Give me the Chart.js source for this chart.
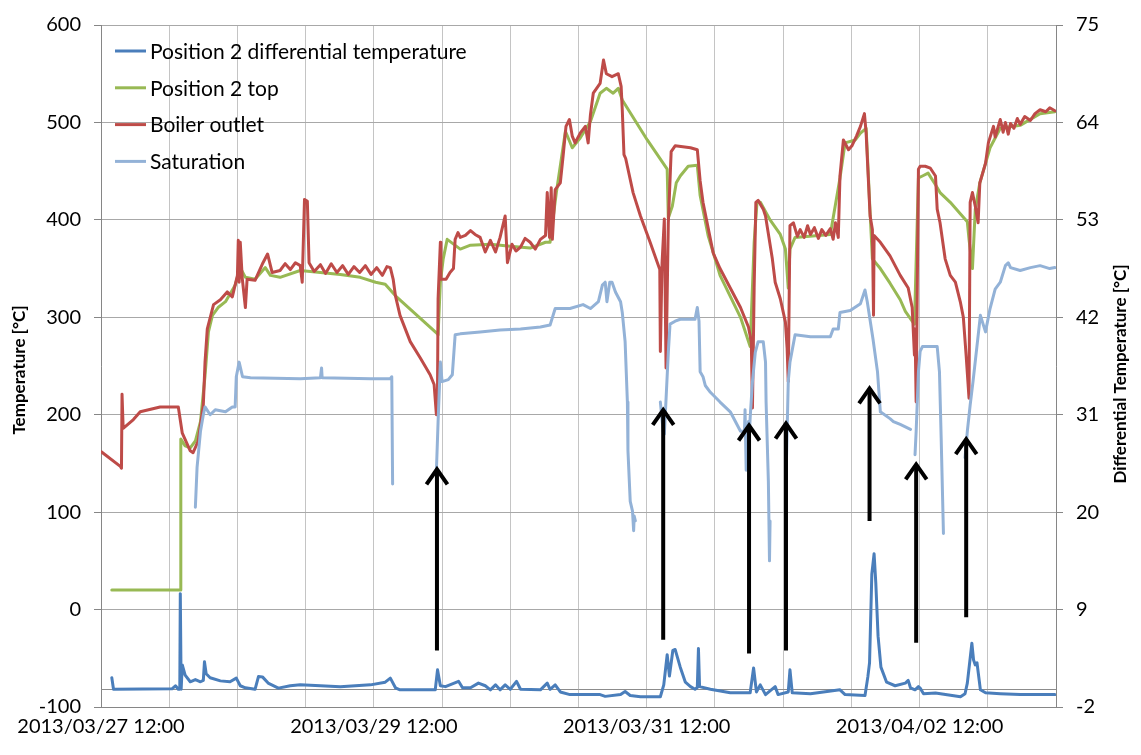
<!DOCTYPE html>
<html>
<head>
<meta charset="utf-8">
<script src="https://cdn.jsdelivr.net/npm/chart.js@4.4.0/dist/chart.umd.min.js"></script>
<style>
  html, body { margin: 0; padding: 0; background: #ffffff; }
  #wrap { width: 1141px; height: 755px; position: relative; }
</style>
</head>
<body>
<div id="wrap"><canvas id="chart" width="1141" height="755"></canvas></div>
<script>
// Time axis: hours since 2013/03/27 12:00, gridline every 12 h, labels every 2 days
const gridHours = [0, 12, 24, 36, 48, 60, 72, 84, 96, 108, 120, 132, 144, 156, 168];
const xLabelHours = [0, 48, 96, 144];
const xLabels = ['2013/03/27 12:00', '2013/03/29 12:00', '2013/03/31 12:00', '2013/04/02 12:00'];
const tempTicks = [-100, 0, 100, 200, 300, 400, 500, 600];
const diffTicks = [-2, 9, 20, 31, 42, 53, 64, 75];

const seriesNames = ['Position 2 differential temperature', 'Position 2 top', 'Boiler outlet', 'Saturation'];

// [hour, °C] — differential temperature (secondary axis)
const diffTemp = [[1.9,1.3],[2.2,0],[12.5,0.05],[13.1,0.4],[13.6,0],[13.86,0],[13.95,10.8],[14.1,0],[14.3,2.75],[14.8,1.6],[15.7,0.85],[16.6,1.1],[17.5,0.85],[18.0,1.0],[18.2,3.1],[18.5,1.75],[19.2,1.3],[21.0,0.95],[22.7,0.85],[23.8,1.26],[24.5,0.4],[25.4,0.17],[27.1,0],[27.7,1.44],[28.4,1.4],[29.4,0.7],[31.2,0.13],[33.3,0.4],[35.05,0.5],[38.6,0.4],[42.1,0.28],[47.4,0.5],[50.0,0.8],[50.9,1.26],[51.8,0.17],[52.6,-0.06],[58.8,-0.06],[59.2,2.2],[59.7,0.4],[60.6,0.3],[62.9,0.9],[63.6,0.17],[65.0,0.17],[66.4,0.7],[67.6,0.4],[68.5,-0.06],[69.4,0.5],[70.2,-0.06],[71.1,0.5],[72.0,0],[73.1,0.9],[73.8,0],[77.3,-0.06],[78.5,0.7],[79.0,0],[79.9,0.5],[80.8,-0.3],[82.5,-0.6],[87.8,-0.6],[88.7,-0.8],[91.4,-0.6],[92.2,-0.25],[93.1,-0.7],[94.9,-0.84],[98.4,-0.84],[99.0,0.5],[99.6,3.9],[100.0,1.5],[100.6,4.4],[101.0,4.5],[101.9,2.5],[102.8,0.8],[103.7,0.3],[104.5,0],[104.9,0.2],[105.1,4.6],[105.3,0.3],[107.2,0],[110.7,-0.4],[114.2,-0.4],[114.8,2.4],[115.3,-0.3],[115.97,0.5],[116.9,-0.6],[118.6,0.3],[119.1,-0.6],[120.9,-0.3],[121.2,2.2],[121.6,-0.4],[124.8,-0.5],[130.0,-0.06],[130.9,-0.6],[134.4,-0.7],[134.9,1.4],[135.2,3.0],[135.6,13.0],[136.0,15.3],[136.3,12.0],[136.7,6.0],[137.2,2.5],[138.2,0.8],[139.7,0.4],[141.5,0.7],[142.0,1.0],[142.4,0.17],[143.2,-0.06],[143.8,0.3],[144.1,0.13],[144.7,-0.5],[146.8,-0.43],[151.2,-0.84],[152.0,-0.5],[152.4,0.7],[152.9,3.5],[153.2,5.2],[153.5,3.3],[153.8,2.75],[154.1,3.0],[154.7,-0.06],[155.6,-0.4],[158.2,-0.5],[161.7,-0.6],[167.8,-0.6]];

// [hour, °C] — position 2 top
const positionTop = [[1.9,20],[13.95,20],[14.04,175],[14.8,168],[15.7,166],[16.6,173],[17.5,193],[18.3,240],[18.9,285],[19.6,302],[20.6,310],[21.9,316],[23.6,333],[24.5,351],[25.4,341],[27.1,339],[28.9,351],[29.8,343],[31.5,341],[35.05,348],[38.6,346],[42.1,344],[45.6,341],[48.3,336],[50.0,334],[51.8,322],[59.0,284],[59.3,282],[59.7,336],[60.2,360],[60.9,380],[63.2,370],[65.0,374],[68.5,375],[72.0,373],[75.5,371],[78.2,377],[79.0,377],[80.1,428],[81.7,491],[82.9,474],[84.3,484],[86.1,501],[87.8,530],[88.9,535],[90.1,530],[91.0,535],[91.7,523],[96.1,482],[99.6,452],[99.8,402],[100.5,414],[101.2,438],[101.9,445],[103.3,455],[104.9,456],[105.4,425],[106.8,384],[108.9,343],[112.5,300],[114.2,270],[114.9,377],[115.4,418],[116.0,418],[117.7,400],[119.5,385],[120.4,370],[120.9,330],[121.2,370],[122.1,382],[128.3,385],[130.0,443],[130.9,479],[132.7,482],[133.6,489],[134.6,494],[135.3,407],[135.7,360],[137.1,350],[138.8,335],[140.6,318],[141.5,306],[142.7,296],[143.1,293],[143.8,443],[144.5,445],[145.5,448],[146.8,436],[147.6,428],[149.4,418],[151.2,406],[152.4,398],[152.7,380],[153.3,350],[153.8,411],[154.6,438],[156.4,474],[158.2,494],[161.7,497],[165.2,509],[167.8,511]];

// [hour, °C] — boiler outlet
const boilerOutlet = [[0.05,162],[3.4,147],[3.6,145],[3.7,221],[3.9,186],[5.7,195],[6.9,203],[10.4,208],[13.6,208],[14.3,181],[15.7,163],[16.2,161],[17.1,173],[18.0,210],[18.3,254],[18.7,288],[19.8,313],[21.0,318],[22.2,326],[23.1,321],[24.0,343],[24.15,379],[24.3,336],[24.5,377],[24.85,340],[25.4,310],[25.7,339],[27.1,338],[28.5,356],[29.3,365],[30.1,346],[31.5,348],[32.4,355],[33.3,349],[34.2,356],[35.05,353],[35.4,336],[35.8,421],[36.3,419],[36.6,356],[37.5,347],[38.6,354],[39.5,345],[40.5,355],[41.5,346],[42.5,353],[43.5,344],[44.5,352],[45.5,346],[46.5,353],[47.5,344],[48.5,351],[49.5,343],[50.3,352],[50.9,351],[51.4,339],[51.8,322],[52.6,302],[54.4,275],[56.2,258],[57.9,241],[58.6,231],[59.0,200],[59.2,227],[59.3,319],[59.7,377],[59.8,339],[60.7,339],[61.4,346],[62.0,350],[62.3,380],[62.8,387],[63.2,382],[64.1,384],[65.0,389],[65.8,385],[66.7,382],[67.6,367],[68.5,379],[69.4,367],[70.2,382],[71.1,404],[71.5,356],[72.3,375],[73.0,368],[73.8,372],[74.6,381],[75.5,377],[76.4,370],[77.3,380],[78.2,384],[78.5,428],[78.9,382],[79.2,433],[79.4,380],[79.9,431],[80.8,438],[81.3,466],[81.8,496],[82.4,503],[82.9,486],[83.4,479],[84.3,489],[85.2,496],[85.7,479],[86.1,508],[86.6,530],[87.8,540],[88.4,564],[88.9,550],[89.9,547],[91.0,550],[91.5,537],[91.7,513],[92.0,467],[92.3,463],[93.6,428],[94.9,404],[96.6,377],[98.3,349],[98.4,265],[98.7,356],[99.1,401],[99.4,248],[99.8,397],[100.3,470],[101.0,476],[103.7,474],[104.9,472],[105.4,440],[105.9,418],[107.7,366],[108.9,350],[112.5,310],[113.9,290],[114.4,275],[114.6,207],[114.9,330],[115.2,418],[115.6,420],[116.5,411],[116.9,404],[118.1,360],[118.6,336],[119.5,319],[120.4,295],[120.7,268],[120.9,234],[121.2,394],[121.8,397],[122.5,383],[123.0,390],[123.7,382],[124.3,394],[124.8,385],[125.5,392],[126.2,381],[126.8,390],[127.5,384],[128.3,391],[128.8,380],[129.2,397],[129.7,382],[130.0,445],[130.6,482],[131.5,472],[132.1,476],[132.9,486],[133.6,496],[134.3,509],[134.6,489],[135.3,404],[135.7,390],[135.9,302],[136.0,384],[137.1,377],[138.8,363],[140.6,343],[142.0,330],[142.7,310],[143.1,261],[143.2,288],[143.4,213],[143.8,452],[144.1,455],[145.0,455],[145.9,453],[146.8,445],[147.1,411],[147.6,397],[148.5,360],[149.4,343],[150.3,336],[151.2,315],[151.7,300],[152.2,260],[152.7,217],[152.9,418],[153.3,428],[153.8,414],[154.3,397],[154.6,438],[155.6,458],[156.1,479],[157.0,496],[157.3,485],[158.2,503],[158.7,490],[159.1,500],[159.6,488],[160.0,499],[160.6,494],[161.2,504],[161.7,498],[162.5,506],[163.5,502],[164.3,509],[165.2,513],[166.2,511],[166.9,515],[167.8,512]];

// [hour, °C] — saturation (null marks a break in the record)
const saturation = [[16.6,105],[16.9,146],[17.5,183],[18.0,200],[18.3,208],[19.2,200],[20.1,205],[21.9,203],[23.1,208],[23.6,208],[23.8,239],[24.3,254],[24.9,239],[26.3,238],[35.05,237],[38.6,238],[38.8,248],[38.9,238],[47.4,237],[50.9,237],[51.15,239],[51.3,129],[55,null],[59.0,142],[59.3,193],[59.7,254],[60.0,234],[61.1,236],[61.8,241],[62.3,282],[63.2,283],[66.7,285],[70.2,287],[73.8,288],[77.3,290],[79.0,292],[79.9,309],[82.5,309],[84.8,313],[86.1,309],[87.5,316],[88.2,333],[88.7,336],[89.0,316],[89.5,336],[89.9,336],[90.5,326],[91.4,316],[91.7,305],[92.2,275],[92.6,213],[92.7,163],[93.1,111],[93.5,101],[93.7,81],[93.8,96],[94.0,91],[96,null],[98.4,213],[98.9,183],[99.1,180],[99.8,264],[100.1,293],[101.0,296],[101.9,298],[104.5,298],[104.9,310],[105.2,296],[105.4,244],[105.9,239],[106.3,230],[107.2,223],[108.9,213],[110.7,203],[112.5,183],[113.2,183],[113.3,205],[113.5,143],[113.9,193],[114.0,173],[114.2,197],[114.6,234],[115.1,264],[115.6,275],[116.5,275],[116.9,254],[117.0,213],[117.4,132],[117.6,50],[117.7,91],[119,null],[120.6,157],[120.9,234],[121.2,254],[122.1,282],[124.8,280],[128.3,280],[128.8,288],[129.7,288],[130.0,305],[131.8,307],[133.6,314],[134.4,328],[134.8,316],[135.8,278],[136.6,244],[137.1,203],[138.8,196],[139.4,193],[140.6,190],[142.4,185],[142.8,null],[143.2,159],[143.4,183],[143.8,244],[144.1,265],[144.5,270],[147.1,270],[147.5,244],[147.8,176],[148.2,78],[150,null],[152.0,156],[152.4,183],[152.9,210],[153.4,234],[154.7,302],[155.6,285],[156.4,309],[157.3,329],[158.2,336],[159.1,353],[159.6,356],[160.0,351],[161.7,348],[163.5,351],[165.2,353],[166.9,350],[167.8,351]];

// Event arrows: hour, tail temperature, tip temperature (primary axis)
const arrowHours = [59.1, 98.9, 114.0, 120.5, 135.2, 143.4, 152.2];
const arrowTail  = [-42, -31, -45, -42, 91, -34, -8];
const arrowTip   = [146, 207, 191, 193, 229, 151, 177];

const FONT = "Lato, 'DejaVu Sans', sans-serif";
const COLORS = ['#4a7ebb', '#98b954', '#be4b48', '#93b2d7'];

const toPoints = arr => arr.map(p => ({ x: p[0], y: p[1] }));

const extras = {
  id: 'extras',
  beforeDatasetsDraw(chart) {
    // horizontal axis line of the secondary scale at 0
    const { ctx, chartArea, scales } = chart;
    const y = Math.round(scales.y1.getPixelForValue(0)) + 0.5;
    ctx.save();
    ctx.strokeStyle = '#8c8c8c';
    ctx.lineWidth = 1;
    ctx.beginPath();
    ctx.moveTo(chartArea.left, y);
    ctx.lineTo(chartArea.right, y);
    ctx.stroke();
    ctx.restore();
  },
  afterDatasetsDraw(chart) {
    const { ctx, scales } = chart;
    ctx.save();
    ctx.strokeStyle = '#000000';
    ctx.lineWidth = 4;
    ctx.lineCap = 'butt';
    ctx.lineJoin = 'miter';
    arrowHours.forEach((h, i) => {
      const x = scales.x.getPixelForValue(h);
      const yt = scales.y.getPixelForValue(arrowTail[i]);
      const yh = scales.y.getPixelForValue(arrowTip[i]);
      ctx.beginPath();
      ctx.moveTo(x, yt);
      ctx.lineTo(x, yh + 2);
      ctx.stroke();
      ctx.beginPath();
      ctx.moveTo(x - 10.5, yh + 17);
      ctx.lineTo(x, yh + 2);
      ctx.lineTo(x + 10.5, yh + 17);
      ctx.stroke();
    });
    ctx.restore();
  },
  afterDraw(chart) {
    const { ctx, chartArea } = chart;
    ctx.save();
    // legend
    ctx.font = '21px ' + FONT;
    ctx.textBaseline = 'middle';
    ctx.textAlign = 'left';
    seriesNames.forEach((name, i) => {
      const y = chartArea.top + 26 + i * 36.8;
      ctx.strokeStyle = COLORS[i];
      ctx.lineWidth = 3;
      ctx.beginPath();
      ctx.moveTo(chartArea.left + 14, y);
      ctx.lineTo(chartArea.left + 45, y);
      ctx.stroke();
      ctx.fillStyle = '#000000';
      ctx.fillText(name, chartArea.left + 49, y + 1);
    });
    // axis titles
    ctx.font = 'bold 17px ' + FONT;
    ctx.textAlign = 'center';
    const cy = (chartArea.top + chartArea.bottom) / 2;
    ctx.translate(20, cy + 4);
    ctx.rotate(-Math.PI / 2);
    ctx.fillText('Temperature [°C]', 0, 0);
    ctx.rotate(Math.PI / 2);
    ctx.translate(-20, -cy - 4);
    ctx.translate(1121, cy + 8);
    ctx.rotate(-Math.PI / 2);
    ctx.fillText('Differential Temperature [°C]', 0, 0);
    ctx.restore();
  }
};

const tickFont = { family: FONT, size: 20 };

new Chart(document.getElementById('chart').getContext('2d'), {
  type: 'line',
  data: {
    datasets: [
      { label: seriesNames[0], data: toPoints(diffTemp), yAxisID: 'y1', borderColor: COLORS[0], borderWidth: 3, order: 4 },
      { label: seriesNames[1], data: toPoints(positionTop), yAxisID: 'y', borderColor: COLORS[1], borderWidth: 3, order: 3 },
      { label: seriesNames[2], data: toPoints(boilerOutlet), yAxisID: 'y', borderColor: COLORS[2], borderWidth: 3, order: 2 },
      { label: seriesNames[3], data: toPoints(saturation), yAxisID: 'y', borderColor: COLORS[3], borderWidth: 3, order: 1, spanGaps: false }
    ]
  },
  options: {
    responsive: false,
    animation: false,
    devicePixelRatio: 1,
    layout: { padding: { top: 21, left: 0, right: 0, bottom: 0 } },
    elements: {
      point: { radius: 0 },
      line: { tension: 0, borderJoinStyle: 'round', borderCapStyle: 'round', fill: false }
    },
    plugins: { legend: { display: false }, tooltip: { enabled: false } },
    scales: {
      x: {
        type: 'linear', min: 0, max: 168,
        afterBuildTicks: s => { s.ticks = gridHours.map(v => ({ value: v })); },
        afterFit: s => { s.height = 48; },
        grid: { color: '#c4c4c4', drawTicks: false },
        border: { color: '#868686' },
        ticks: {
          autoSkip: false, maxRotation: 0, minRotation: 0, padding: 8,
          color: '#000000', font: tickFont,
          callback: v => { const i = xLabelHours.indexOf(v); return i >= 0 ? xLabels[i] : ''; }
        }
      },
      y: {
        position: 'left', min: -100, max: 600,
        afterBuildTicks: s => { s.ticks = tempTicks.map(v => ({ value: v })); },
        afterFit: s => { s.width = 101; },
        grid: { color: '#a8a8a8', tickLength: 7, tickColor: '#868686' },
        border: { color: '#868686' },
        ticks: { padding: 13, color: '#000000', font: tickFont }
      },
      y1: {
        position: 'right', min: -2, max: 75,
        afterBuildTicks: s => { s.ticks = diffTicks.map(v => ({ value: v })); },
        afterFit: s => { s.width = 85; },
        grid: { drawOnChartArea: false, tickLength: 7, color: '#868686' },
        border: { color: '#868686' },
        ticks: { padding: 13, color: '#000000', font: tickFont }
      }
    }
  },
  plugins: [extras]
});
</script>
</body>
</html>
